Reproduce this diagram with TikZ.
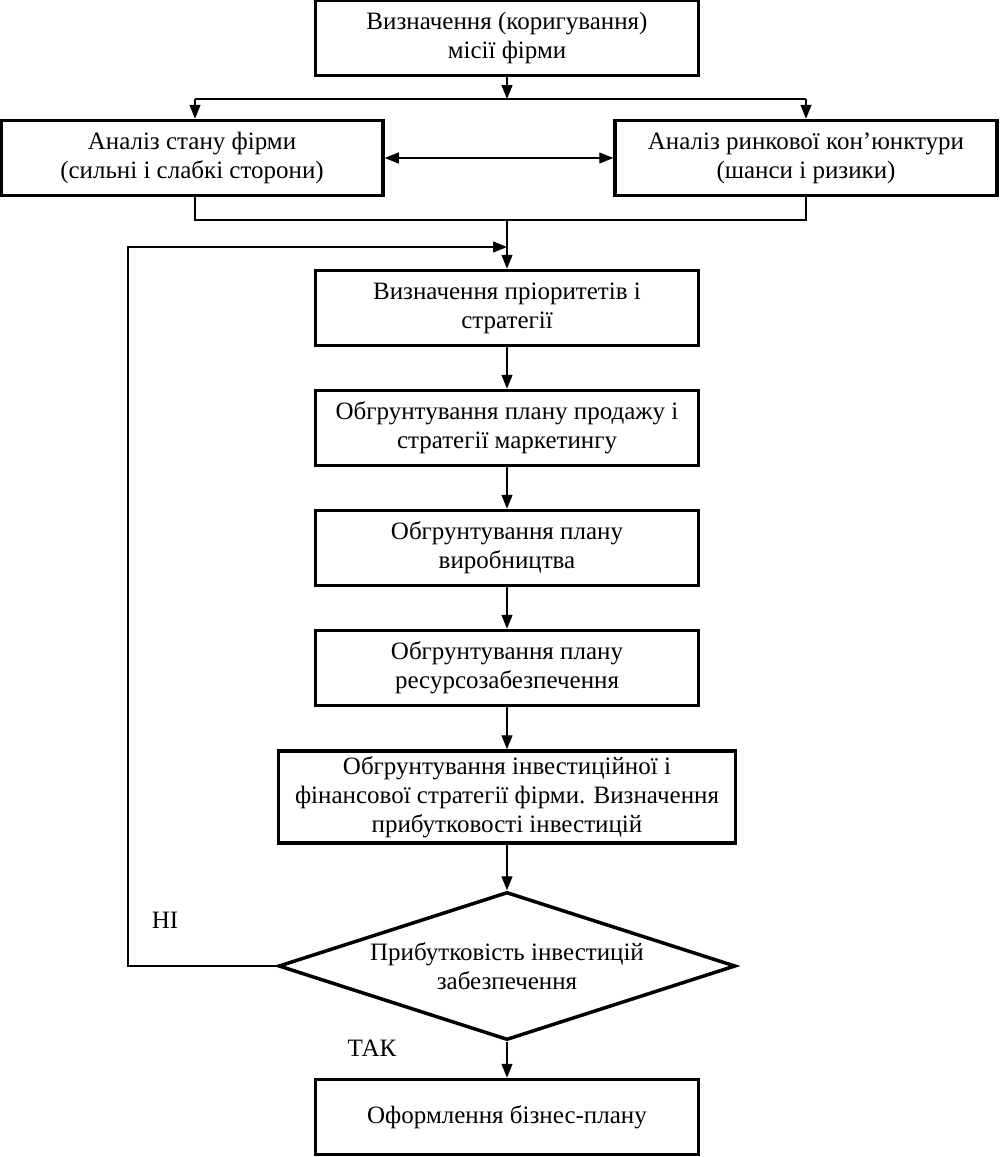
\documentclass[tikz,border=0pt]{standalone}
\usepackage{fontspec}
\setmainfont{Liberation Serif}
\usetikzlibrary{arrows.meta,shapes.geometric,calc}
\begin{document}
\begin{tikzpicture}[x=1pt,y=-1pt,
  every node/.style={font=\fontsize{25}{29}\selectfont},
  box/.style={draw,line width=3.5pt,inner sep=0pt,align=center,minimum width=383pt,minimum height=75pt},
  conn/.style={line width=1.3pt},
  arr/.style={conn,-{Triangle[length=14pt,width=11pt]}},
  darr/.style={conn,{Triangle[length=14pt,width=11pt]}-{Triangle[length=14pt,width=11pt]}},
  lbl/.style={inner sep=0pt}
]
\useasboundingbox (0,0) rectangle (999,1157);
\node[box] (top) at (507,38) {Визначення (коригування)\\місії фірми};
\node[box,minimum width=382pt] (left) at (192,158) {Аналіз стану фірми\\(сильні і слабкі сторони)};
\node[box,minimum width=382pt] (right) at (806,158) {Аналіз ринкової кон’юнктури\\(шанси і ризики)};
\node[box] (b4) at (507,308) {Визначення пріоритетів і\\стратегії};
\node[box] (b5) at (507,428) {Обгрунтування плану продажу і\\стратегії маркетингу};
\node[box] (b6) at (507,548) {Обгрунтування плану\\виробництва};
\node[box] (b7) at (507,668) {Обгрунтування плану\\ресурсозабезпечення};
\node[box,minimum width=457pt,minimum height=92pt] (b8) at (507,797) {Обгрунтування інвестиційної і\\фінансової стратегії фірми. Визначення\\прибутковості інвестицій};
\node[draw,line width=3.5pt,shape=diamond,shape aspect=3.09,inner sep=0pt,minimum width=457pt,minimum height=148pt,align=center] (dia) at (507,966) {Прибутковість інвестицій\\забезпечення};
\node[box] (fin) at (507,1117) {Оформлення бізнес-плану};
\node[lbl] (ni) at (165,920) {НІ};
\node[lbl] (tak) at (372,1048) {ТАК};
\coordinate (j1) at (507,99);
\coordinate (jl) at (195,99);
\coordinate (jr) at (806,99);
\coordinate (jb) at (507,220);
\coordinate (fbc) at (128,966);
\coordinate (fbt) at (507,247);
\draw[arr] (top.south) -- (j1);
\draw[conn] (jl) -- (jr);
\draw[arr] (jl) -- (jl |- left.north);
\draw[arr] (jr) -- (jr |- right.north);
\draw[darr] (left.east) -- (right.west);
\draw[conn] (jl |- left.south) -- (jl |- jb) -- (jr |- jb) -- (jr |- right.south);
\draw[arr] (jb) -- (b4.north);
\draw[arr] (dia.west) -- (fbc) |- (fbt);
\draw[arr] (b4) -- (b5);
\draw[arr] (b5) -- (b6);
\draw[arr] (b6) -- (b7);
\draw[arr] (b7) -- (b8);
\draw[arr] (b8) -- (dia);
\draw[arr] (dia) -- (fin);
\end{tikzpicture}
\end{document}
